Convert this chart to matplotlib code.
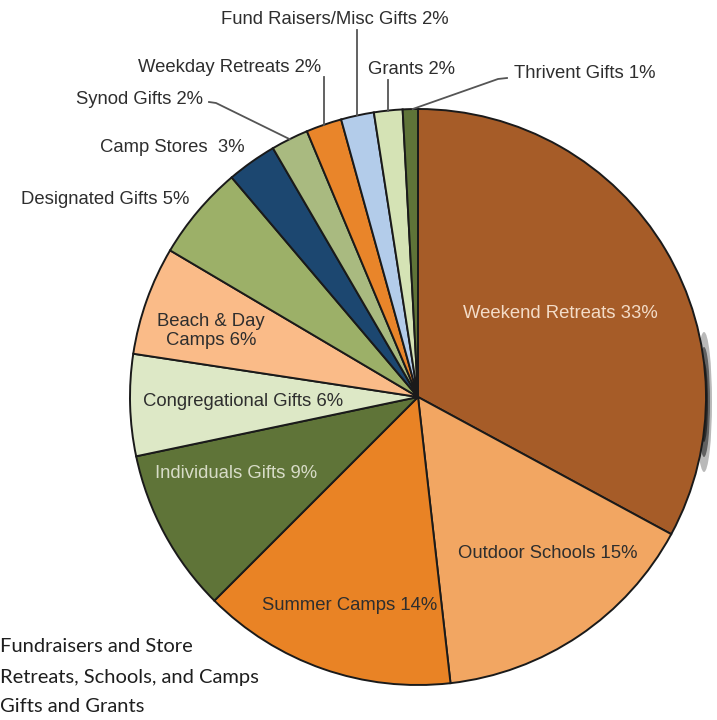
import matplotlib
matplotlib.use("Agg")
import matplotlib.pyplot as plt
import numpy as np
from matplotlib.patches import Ellipse

# Income sources, clockwise from the top of the pie
labels = ["Weekend Retreats 33%", "Outdoor Schools 15%", "Summer Camps 14%",
          "Individuals Gifts 9%", "Congregational Gifts 6%", "Beach & Day\nCamps 6%",
          "Designated Gifts 5%", "Camp Stores  3%", "Synod Gifts 2%",
          "Weekday Retreats 2%", "Fund Raisers/Misc Gifts 2%", "Grants 2%",
          "Thrivent Gifts 1%"]
shares = [32.9, 15.3, 14.3, 9.2, 5.7, 6.1, 5.3, 2.8, 2.1, 2.0, 1.85, 1.6, 0.85]
colors = ["#a65c28", "#f2a662", "#e98325", "#5f7438", "#dde8c6", "#fabb88",
          "#9cb068", "#1c4770", "#a9ba80", "#e9852a", "#b3ccea",
          "#d5e3b5", "#5f7438"]
legend_lines = ["Fundraisers and Store", "Retreats, Schools, and Camps", "Gifts and Grants"]

W, H = 717, 720
fig = plt.figure(figsize=(W / 100, H / 100), dpi=100)
ax = fig.add_axes([0, 0, 1, 1])


def Y(y):
    # image rows -> axis units
    return H - y


cx, cy, r = 418, Y(397), 288

# soft shadow on the right side
for w_, h_, a in [(16, 140, 0.3), (12, 110, 0.55), (8, 80, 0.75)]:
    ax.add_patch(Ellipse((cx + r - 2, cy - 5), w_, h_,
                         color="#1a1a1a", alpha=a, lw=0, zorder=0))

wedges, _ = ax.pie(shares, colors=colors, startangle=90, counterclock=False,
                   center=(cx, cy), radius=r, frame=True,
                   wedgeprops=dict(edgecolor="#1a1a1a", linewidth=1.4))
ax.set_xlim(0, W)
ax.set_ylim(0, H)
ax.set_aspect("equal")
ax.axis("off")

font = dict(family=["Liberation Sans", "DejaVu Sans"], fontsize=13.3)
dark = "#2e2e2e"

inside = {
    0: (560, 314, "#f3dcc8"),
    1: (548, 553, dark),
    2: (350, 605, dark),
    3: (236, 474, "#d8dcc8"),
    4: (243, 401, dark),
    5: (211, 331, dark),
}
for i, (x, y, c) in inside.items():
    ax.text(x, Y(y), labels[i], ha="center", va="center", color=c,
            linespacing=1.1, **font)

outside = {
    6: (105, 200),
    7: (172, 148),
    8: (139, 100),
    9: (230, 67),
    10: (335, 20),
    11: (412, 70),
    12: (585, 74),
}
for i, (x, y) in outside.items():
    ax.text(x, Y(y), labels[i], ha="center", va="center", color=dark, **font)


def edge_point(w, frac=0.5):
    t = np.radians(w.theta1 + (w.theta2 - w.theta1) * frac)
    return cx + r * np.cos(t), cy + r * np.sin(t)


line = dict(color="#555555", lw=1.3, zorder=1)
# Synod: short horizontal then diagonal
ex, ey = edge_point(wedges[8])
ax.plot([209, 216, ex], [Y(102), Y(103), ey], **line)
# vertical leaders
for i, top in [(9, 77), (10, 30), (11, 80)]:
    ex, ey = edge_point(wedges[i])
    ax.plot([ex, ex], [Y(top), ey], **line)
# Thrivent
ex, ey = edge_point(wedges[12], 0.35)
ax.plot([507, 498, ex], [Y(78), Y(79), ey], **line)

for k, txt in enumerate(legend_lines):
    ax.text(0.5, Y(647 + 30 * k), txt, ha="left", va="center", color="#1e1e1e",
            family=["Lato", "DejaVu Sans"], fontsize=14.5)

fig.savefig("out.png", dpi=100, facecolor="white")
